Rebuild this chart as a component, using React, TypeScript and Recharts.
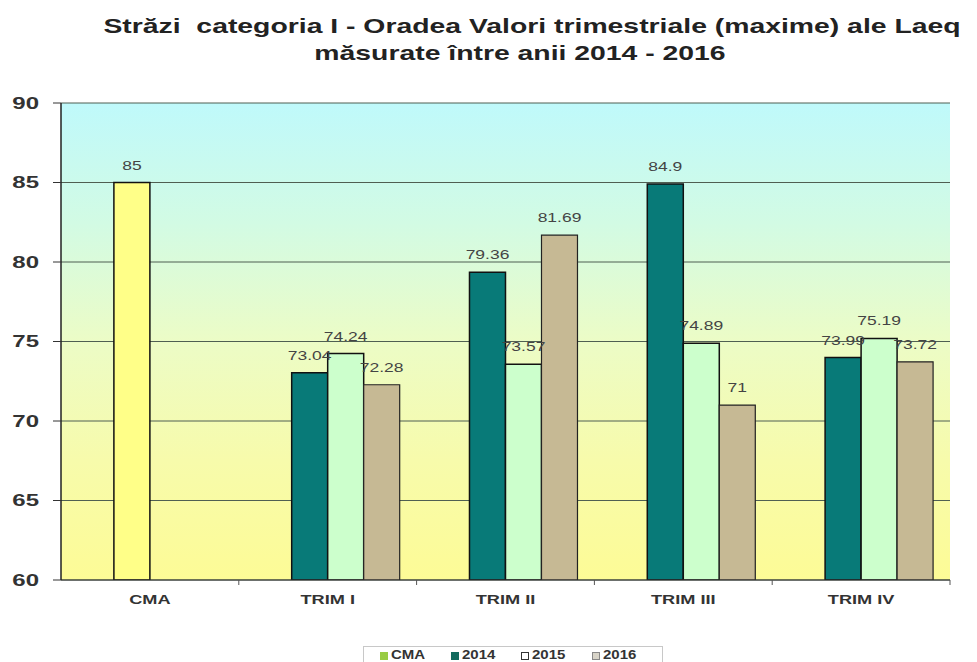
import React from 'react';
import { BarChart, Bar, XAxis, YAxis, CartesianGrid, LabelList, Legend, Cell } from 'recharts';

const categories = ['CMA', 'TRIM I', 'TRIM II', 'TRIM III', 'TRIM IV'];
const cma = [85, null, null, null, null];
const y2014 = [null, 73.04, 79.36, 84.9, 73.99];
const y2015 = [null, 74.24, 73.57, 74.89, 75.19];
const y2016 = [null, 72.28, 81.69, 71, 73.72];
const yTicks = [60, 65, 70, 75, 80, 85, 90];
const legendItems = [
  { name: 'CMA', color: '#99cc44', stroke: '#99cc44' },
  { name: '2014', color: '#136b5e', stroke: '#136b5e' },
  { name: '2015', color: '#ffffff', stroke: '#333333' },
  { name: '2016', color: '#d8d4c8', stroke: '#888888' },
];

const FONT = "'Liberation Sans', Arial, sans-serif";
const C_CMA = '#ffff88';
const C_2014 = '#087a78';
const C_2015 = '#ccffcc';
const C_2016 = '#c6b994';

const data = categories.map((c, i) => ({
  name: c,
  ghost: null,
  main: cma[i] != null ? cma[i] : y2014[i],
  isCma: cma[i] != null,
  v2015: y2015[i],
  v2016: y2016[i],
}));

const TICK_SIZE = 6;
const TICK_MARGIN = 9;

const XTick = (props: any) => {
  const { x, y, payload, index, visibleTicksCount } = props;
  const off = payload && payload.offset ? payload.offset : 0;
  const axisY = y - TICK_SIZE - TICK_MARGIN;
  return (
    <g>
      {off && index > 0 ? (
        <line x1={x - off} x2={x - off} y1={axisY} y2={axisY + 5} stroke="#555" strokeWidth={1} />
      ) : null}
      {off && index === visibleTicksCount - 1 ? (
        <line x1={x + off} x2={x + off} y1={axisY} y2={axisY + 5} stroke="#555" strokeWidth={1} />
      ) : null}
      <text
        transform={`translate(${x},${y}) scale(1.4,1)`}
        x={0}
        y={0}
        dy="0.71em"
        textAnchor="middle"
        fontFamily={FONT}
        fontWeight="bold"
        fontSize={13}
        fill="#333"
      >
        {payload.value}
      </text>
    </g>
  );
};

const YTick = (props: any) => {
  const { x, y, payload } = props;
  return (
    <text
      transform={`translate(${x},${y}) scale(1.5,1)`}
      x={0}
      y={0}
      dy="0.355em"
      textAnchor="end"
      fontFamily={FONT}
      fontWeight="bold"
      fontSize={16}
      fill="#333"
    >
      {payload.value}
    </text>
  );
};

const renderValueLabel = (props: any) => {
  const { x, y, width, value } = props;
  if (value == null) return null;
  const cx = Number(x) + Number(width) / 2;
  const cy = Number(y) - 13;
  return (
    <text
      transform={`translate(${cx},${cy}) scale(1.4,1)`}
      x={0}
      y={0}
      textAnchor="middle"
      fontFamily={FONT}
      fontSize={12.5}
      fill="#444"
    >
      {value}
    </text>
  );
};

const LegendContent = () => (
  <div style={{ height: 20, overflow: 'hidden', boxSizing: 'border-box' }}>
    <div
      style={{
        marginTop: 4,
        height: 30,
        borderTop: '1px solid #c8c8c8',
        borderLeft: '1px solid #c8c8c8',
        borderRight: '1px solid #c8c8c8',
        display: 'flex',
        alignItems: 'flex-start',
        paddingLeft: 16,
        paddingTop: 2,
        boxSizing: 'border-box',
        width: 300,
        fontFamily: FONT,
        fontWeight: 'bold',
        fontSize: 12,
        lineHeight: '13px',
        color: '#333',
      }}
    >
      {legendItems.map((it) => (
        <div key={it.name} style={{ display: 'flex', alignItems: 'center', width: 72 }}>
          <span
            style={{
              display: 'inline-block',
              width: 6,
              height: 6,
              background: it.color,
              border: `1px solid ${it.stroke}`,
              marginRight: 3,
            }}
          />
          <span style={{ display: 'inline-block', transform: 'scaleX(1.25)', transformOrigin: 'left center' }}>
            {it.name}
          </span>
        </div>
      ))}
    </div>
  </div>
);

const titleStyle: any = {
  position: 'absolute',
  left: 0,
  textAlign: 'center',
  whiteSpace: 'pre',
  fontFamily: FONT,
  fontWeight: 'bold',
  fontSize: 21,
  color: '#222',
  lineHeight: '24px',
  transform: 'scaleX(1.35)',
};

export default function App() {
  return (
    <div style={{ position: 'absolute', left: 0, top: 0, width: 977, height: 662, background: '#fff', overflow: 'hidden' }}>
      <div style={{ ...titleStyle, width: 1064, top: 14 }}>
        {'Străzi  categoria I - Oradea Valori trimestriale (maxime) ale Laeq'}
      </div>
      <div style={{ ...titleStyle, width: 1040, top: 41 }}>
        {'măsurate între anii 2014 - 2016'}
      </div>
      <div style={{ position: 'absolute', left: 0, top: 0 }}>
        <BarChart
          width={977}
          height={662}
          data={data}
          margin={{ top: 103, right: 27, left: 0, bottom: 0 }}
          barCategoryGap="9.5%"
          barGap={0}
        >
          <defs>
            <linearGradient id="bgGrad" x1="0" y1="0" x2="0" y2="1">
              <stop offset="0%" stopColor="#bff9fb" />
              <stop offset="25%" stopColor="#d2fbe4" />
              <stop offset="50%" stopColor="#ecfcc6" />
              <stop offset="75%" stopColor="#f7fbab" />
              <stop offset="100%" stopColor="#fdfb96" />
            </linearGradient>
          </defs>
          <CartesianGrid
            vertical={false}
            stroke="#4f5f52"
            strokeWidth={1}
            fill="url(#bgGrad)"
            fillOpacity={1}
          />
          <XAxis
            dataKey="name"
            height={62}
            tickLine={false}
            tickSize={TICK_SIZE}
            tickMargin={TICK_MARGIN}
            axisLine={{ stroke: '#333', strokeWidth: 1 }}
            tick={<XTick />}
            interval={0}
          />
          <YAxis
            domain={[60, 90]}
            ticks={yTicks}
            width={61}
            tickSize={8}
            tickMargin={14}
            axisLine={{ stroke: '#222', strokeWidth: 1.5 }}
            tickLine={{ stroke: '#333', strokeWidth: 1 }}
            tick={<YTick />}
            allowDataOverflow
          />
          <YAxis
            yAxisId="right"
            orientation="right"
            domain={[60, 90]}
            width={0}
            tick={false}
            tickLine={false}
            axisLine={{ stroke: '#8a8a8a', strokeWidth: 1.5 }}
          />
          <Legend verticalAlign="bottom" content={<LegendContent />} wrapperStyle={{ left: 363, width: 300, bottom: 0 }} />
          <Bar dataKey="ghost" name="" legendType="none" fill="transparent" isAnimationActive={false} />
          <Bar dataKey="main" name="2014" fill={C_2014} stroke="#111" strokeWidth={1.5} isAnimationActive={false}>
            {data.map((d, i) => (
              <Cell key={i} fill={d.isCma ? C_CMA : C_2014} />
            ))}
            <LabelList dataKey="main" content={renderValueLabel} />
          </Bar>
          <Bar dataKey="v2015" name="2015" fill={C_2015} stroke="#111" strokeWidth={1.5} isAnimationActive={false}>
            <LabelList dataKey="v2015" content={renderValueLabel} />
          </Bar>
          <Bar dataKey="v2016" name="2016" fill={C_2016} stroke="#222" strokeWidth={1.2} isAnimationActive={false}>
            <LabelList dataKey="v2016" content={renderValueLabel} />
          </Bar>
        </BarChart>
      </div>
    </div>
  );
}
